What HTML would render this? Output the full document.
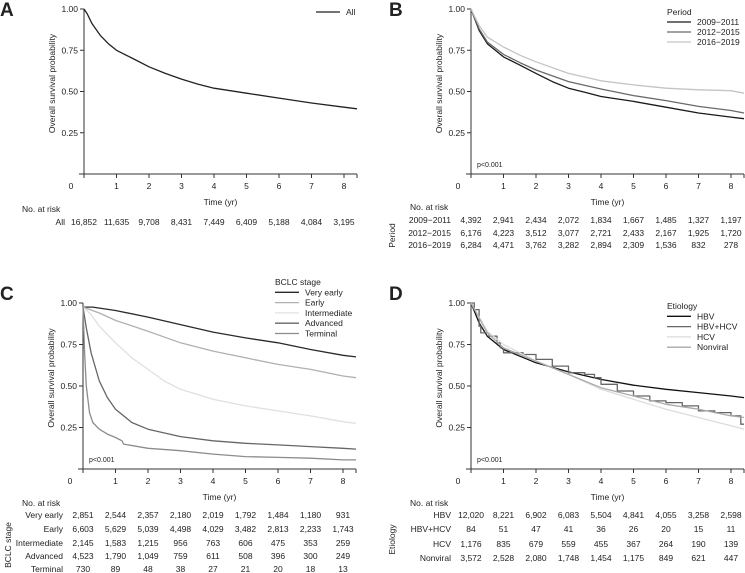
<!DOCTYPE html>
<html><head><meta charset="utf-8"><style>
body{margin:0;background:#fff;}
svg{display:block;font-family:"Liberation Sans",sans-serif;}
text{fill:#222;}
</style></head><body>
<svg id="fig" width="745" height="573" viewBox="0 0 745 573" xmlns="http://www.w3.org/2000/svg"></svg>
<script>
// ---- Data ----
const riskTimes = [0,1,2,3,4,5,6,7,8];
const xTicks = [0,1,2,3,4,5,6,7,8];
const yTicks = [0.25,0.5,0.75,1.0];
const yTickLabels = ["0.25","0.50","0.75","1.00"];

const allT = [0,0.1,0.25,0.5,0.75,1,1.5,2,2.5,3,3.5,4,4.5,5,6,7,8,8.4];
const allS = [1,0.97,0.91,0.84,0.79,0.75,0.70,0.65,0.61,0.575,0.545,0.52,0.505,0.49,0.46,0.43,0.405,0.395];
const riskAll = ["16,852","11,635","9,708","8,431","7,449","6,409","5,188","4,084","3,195"];

const p1T = [0,0.25,0.5,1,1.5,2,2.5,3,3.5,4,5,6,7,8,8.4];
const p1S = [1,0.87,0.79,0.71,0.66,0.61,0.56,0.52,0.495,0.47,0.44,0.405,0.37,0.345,0.335];
const p2T = [0,0.25,0.5,1,1.5,2,3,4,5,6,7,8,8.4];
const p2S = [1,0.88,0.80,0.725,0.675,0.63,0.56,0.515,0.475,0.445,0.41,0.385,0.37];
const p3T = [0,0.25,0.5,1,1.5,2,3,4,5,6,7,8,8.4];
const p3S = [1,0.90,0.83,0.77,0.72,0.68,0.61,0.565,0.54,0.52,0.51,0.505,0.49];
const riskP1 = ["4,392","2,941","2,434","2,072","1,834","1,667","1,485","1,327","1,197"];
const riskP2 = ["6,176","4,223","3,512","3,077","2,721","2,433","2,167","1,925","1,720"];
const riskP3 = ["6,284","4,471","3,762","3,282","2,894","2,309","1,536","832","278"];

const veT = [0,0.3,1,2,3,4,5,6,7,8,8.4];
const veS = [0.975,0.975,0.955,0.915,0.87,0.825,0.79,0.76,0.72,0.685,0.675];
const eaT = [0,0.5,1,2,3,4,5,6,7,8,8.4];
const eaS = [0.975,0.94,0.895,0.83,0.76,0.71,0.67,0.63,0.60,0.56,0.55];
const inT = [0,0.25,0.5,1,1.5,2,2.5,3,3.5,4,5,6,7,8,8.4];
const inS = [0.975,0.93,0.86,0.76,0.67,0.60,0.53,0.48,0.45,0.42,0.38,0.35,0.32,0.285,0.275];
const adT = [0,0.1,0.25,0.5,0.75,1,1.5,2,3,4,5,6,7,8,8.4];
const adS = [0.975,0.85,0.70,0.53,0.43,0.36,0.28,0.24,0.195,0.17,0.155,0.145,0.135,0.125,0.12];
const teT = [0,0.05,0.1,0.2,0.3,0.5,0.75,1,1.2,1.25,2,3,4,5,6,7,8,8.4];
const teS = [0.975,0.70,0.50,0.34,0.28,0.24,0.21,0.19,0.17,0.15,0.125,0.11,0.09,0.075,0.07,0.065,0.055,0.055];
const riskVE = ["2,851","2,544","2,357","2,180","2,019","1,792","1,484","1,180","931"];
const riskEA = ["6,603","5,629","5,039","4,498","4,029","3,482","2,813","2,233","1,743"];
const riskIN = ["2,145","1,583","1,215","956","763","606","475","353","259"];
const riskAD = ["4,523","1,790","1,049","759","611","508","396","300","249"];
const riskTE = ["730","89","48","38","27","21","20","18","13"];

const hbvT = [0,0.25,0.5,1,2,3,4,5,6,7,8,8.4];
const hbvS = [1,0.88,0.80,0.72,0.64,0.585,0.54,0.505,0.48,0.46,0.44,0.43];
const coT = [0,0.1,0.25,0.3,0.55,0.8,0.9,1,1.6,2,2.5,3,3.5,3.8,4,4.5,5,5.5,6,6.5,7,7.5,8,8.3,8.4];
const coS = [1,0.96,0.86,0.82,0.80,0.76,0.73,0.70,0.69,0.66,0.62,0.58,0.57,0.55,0.51,0.47,0.44,0.41,0.40,0.38,0.35,0.34,0.32,0.27,0.27];
const hcvT = [0,0.5,1,2,3,4,5,6,7,8,8.4];
const hcvS = [1,0.83,0.75,0.65,0.57,0.48,0.42,0.36,0.31,0.26,0.24];
const nvT = [0,0.5,1,2,3,4,5,6,7,8,8.4];
const nvS = [1,0.82,0.73,0.65,0.57,0.49,0.44,0.39,0.36,0.32,0.31];
const riskHBV = ["12,020","8,221","6,902","6,083","5,504","4,841","4,055","3,258","2,598"];
const riskCO = ["84","51","47","41","36","26","20","15","11"];
const riskHCV = ["1,176","835","679","559","455","367","264","190","139"];
const riskNV = ["3,572","2,528","2,080","1,748","1,454","1,175","849","621","447"];

// ---- Drawing ----
const NS = "http://www.w3.org/2000/svg";
const svg = document.getElementById('fig');
function el(tag, attrs, parent, txt){
  const e = document.createElementNS(NS, tag);
  for (const k in attrs) e.setAttribute(k, attrs[k]);
  if (txt !== undefined) e.textContent = txt;
  (parent||svg).appendChild(e);
  return e;
}

function panel(cfg){
  const g = el('g', {});
  
  
  const x0 = cfg.ax, yTop = cfg.top, yBot = cfg.bot, xEnd = cfg.ax + 8.4*cfg.pxPerYr;
  const sx = t => x0 + t*cfg.pxPerYr;
  const sy = s => yBot - s*(yBot - yTop);
  const lt = el('text', {x:cfg.lx, y:cfg.ly, 'font-size':19, 'font-weight':'bold'}, g, cfg.letter);
  
  
  const ya = el('line', {x1:x0, y1:yTop, x2:x0, y2:yBot+3, stroke:'#333', 'stroke-width':1}, g);
  
  
  const xa = el('line', {x1:x0-5, y1:yBot, x2:xEnd, y2:yBot, stroke:'#333', 'stroke-width':1}, g);
  
  
  yTicks.forEach((v,i)=>{
    el('line', {x1:x0-4, y1:sy(v), x2:x0, y2:sy(v), stroke:'#333'}, g);
    const t = el('text', {x:x0-6, y:sy(v)+3, 'font-size':8.5, 'text-anchor':'end'}, g, yTickLabels[i]);
    
    
  });
  xTicks.forEach(v=>{
    el('line', {x1:sx(v), y1:yBot, x2:sx(v), y2:yBot+4, stroke:'#333'}, g);
    const t = el('text', {x: v===0 ? x0-13 : sx(v), y:yBot+15, 'font-size':8.5, 'text-anchor':'middle'}, g, String(v));
    
    
  });
  el('line', {x1:xEnd, y1:yBot, x2:xEnd, y2:yBot+4, stroke:'#333'}, g);
  const yt = el('text', {x:0, y:0, 'font-size':8.5, 'text-anchor':'middle', transform:`translate(${x0-29},${(yTop+yBot)/2-8}) rotate(-90)`}, g, 'Overall survival probability');
  
  
  const xt = el('text', {x:(x0+xEnd)/2, y:yBot+31, 'font-size':8.5, 'text-anchor':'middle'}, g, 'Time (yr)');
  
  
  if (cfg.pval){
    const p = el('text', {x:x0+6, y:yBot-7, 'font-size':7, }, g, 'p<0.001');
    
    
  }
  cfg.series.forEach(s=>{
    let d = '';
    s.t.forEach((t,i)=>{
      if (i===0) d += `M${sx(t).toFixed(1)},${sy(s.s[i]).toFixed(1)}`;
      else if (s.step) d += `H${sx(t).toFixed(1)}V${sy(s.s[i]).toFixed(1)}`;
      else d += `L${sx(t).toFixed(1)},${sy(s.s[i]).toFixed(1)}`;
    });
    const p = el('path', {d:d, fill:'none', stroke:s.color, 'stroke-width':1.3, 'stroke-linejoin':'round'}, g);
    
    
  });
  const lg = el('g', {}, g);
  
  
  let ly = cfg.legY;
  if (cfg.legTitle){
    el('text', {x:cfg.legX, y:ly, 'font-size':8.5}, lg, cfg.legTitle);
    ly += cfg.legStep;
  }
  cfg.series.forEach(s=>{
    const e = el('g', {}, lg);
    
    
    el('line', {x1:cfg.legX, y1:ly-3, x2:cfg.legX+24, y2:ly-3, stroke:s.color, 'stroke-width':1.3}, e);
    el('text', {x:cfg.legX+30, y:ly, 'font-size':8.5}, e, s.label);
    ly += cfg.legStep;
  });
  const rt = el('g', {}, g);
  
  
  el('text', {x:cfg.narX, y:cfg.narY, 'font-size':8.5}, rt, 'No. at risk');
  cfg.series.forEach((s,i)=>{
    const y = cfg.rowY[i];
    el('text', {x:cfg.rowLabelX, y:y, 'font-size':8.5, 'text-anchor':'end'}, rt, s.rowLabel || s.label);
    riskTimes.forEach((t,j)=>{
      const c = el('text', {x:sx(t), y:y, 'font-size':8.5, 'text-anchor':'middle'}, rt, s.risk[j]);
      
      
    });
  });
  if (cfg.groupTitle){
    const gy = (cfg.rowY[0] + cfg.rowY[cfg.rowY.length-1]) / 2;
    el('text', {x:0, y:0, 'font-size':8.5, 'text-anchor':'middle', transform:`translate(${cfg.groupX},${gy}) rotate(-90)`}, rt, cfg.groupTitle);
  }
}

panel({name:'panel-a-all', letter:'A', lx:0, ly:16, ax:84, top:9, bot:174, pxPerYr:32.5, pval:false,
  legX:316, legY:15, legStep:10, legTitle:null,
  series:[{key:'all', label:'All', color:'#222', t:allT, s:allS, risk:riskAll}],
  narX:22, narY:212, rowLabelX:65, rowY:[225]});

panel({name:'panel-b-period', letter:'B', lx:389, ly:16, ax:471, top:9, bot:174, pxPerYr:32.5, pval:true,
  legX:667, legY:15, legStep:10, legTitle:'Period',
  series:[
    {key:'2009-2011', label:'2009−2011', color:'#1a1a1a', t:p1T, s:p1S, risk:riskP1},
    {key:'2012-2015', label:'2012−2015', color:'#6a6a6a', t:p2T, s:p2S, risk:riskP2},
    {key:'2016-2019', label:'2016−2019', color:'#c4c4c4', t:p3T, s:p3S, risk:riskP3}],
  narX:410, narY:210, rowLabelX:451, rowY:[223,236,248], groupTitle:'Period', groupX:395});

panel({name:'panel-c-bclc', letter:'C', lx:0, ly:300, ax:83, top:303, bot:469, pxPerYr:32.5, pval:true,
  legX:275, legY:285, legStep:10.3, legTitle:'BCLC stage',
  series:[
    {key:'very-early', label:'Very early', color:'#2a2a2a', t:veT, s:veS, risk:riskVE},
    {key:'early', label:'Early', color:'#b0b0b0', t:eaT, s:eaS, risk:riskEA},
    {key:'intermediate', label:'Intermediate', color:'#e0e0e0', t:inT, s:inS, risk:riskIN},
    {key:'advanced', label:'Advanced', color:'#666', t:adT, s:adS, risk:riskAD},
    {key:'terminal', label:'Terminal', color:'#8c8c8c', t:teT, s:teS, risk:riskTE}],
  narX:22, narY:506, rowLabelX:63, rowY:[518,532,546,559,572], groupTitle:'BCLC stage', groupX:11});

panel({name:'panel-d-etiology', letter:'D', lx:389, ly:300, ax:471, top:303, bot:469, pxPerYr:32.5, pval:true,
  legX:667, legY:309, legStep:10.3, legTitle:'Etiology',
  series:[
    {key:'hbv', label:'HBV', color:'#111', t:hbvT, s:hbvS, risk:riskHBV},
    {key:'hbv-hcv', label:'HBV+HCV', color:'#666', t:coT, s:coS, risk:riskCO, step:true},
    {key:'hcv', label:'HCV', color:'#dcdcdc', t:hcvT, s:hcvS, risk:riskHCV},
    {key:'nonviral', label:'Nonviral', color:'#aaa', t:nvT, s:nvS, risk:riskNV}],
  narX:410, narY:506, rowLabelX:451, rowY:[518,532,547,561], groupTitle:'Etiology', groupX:395});
</script>
</body></html>
